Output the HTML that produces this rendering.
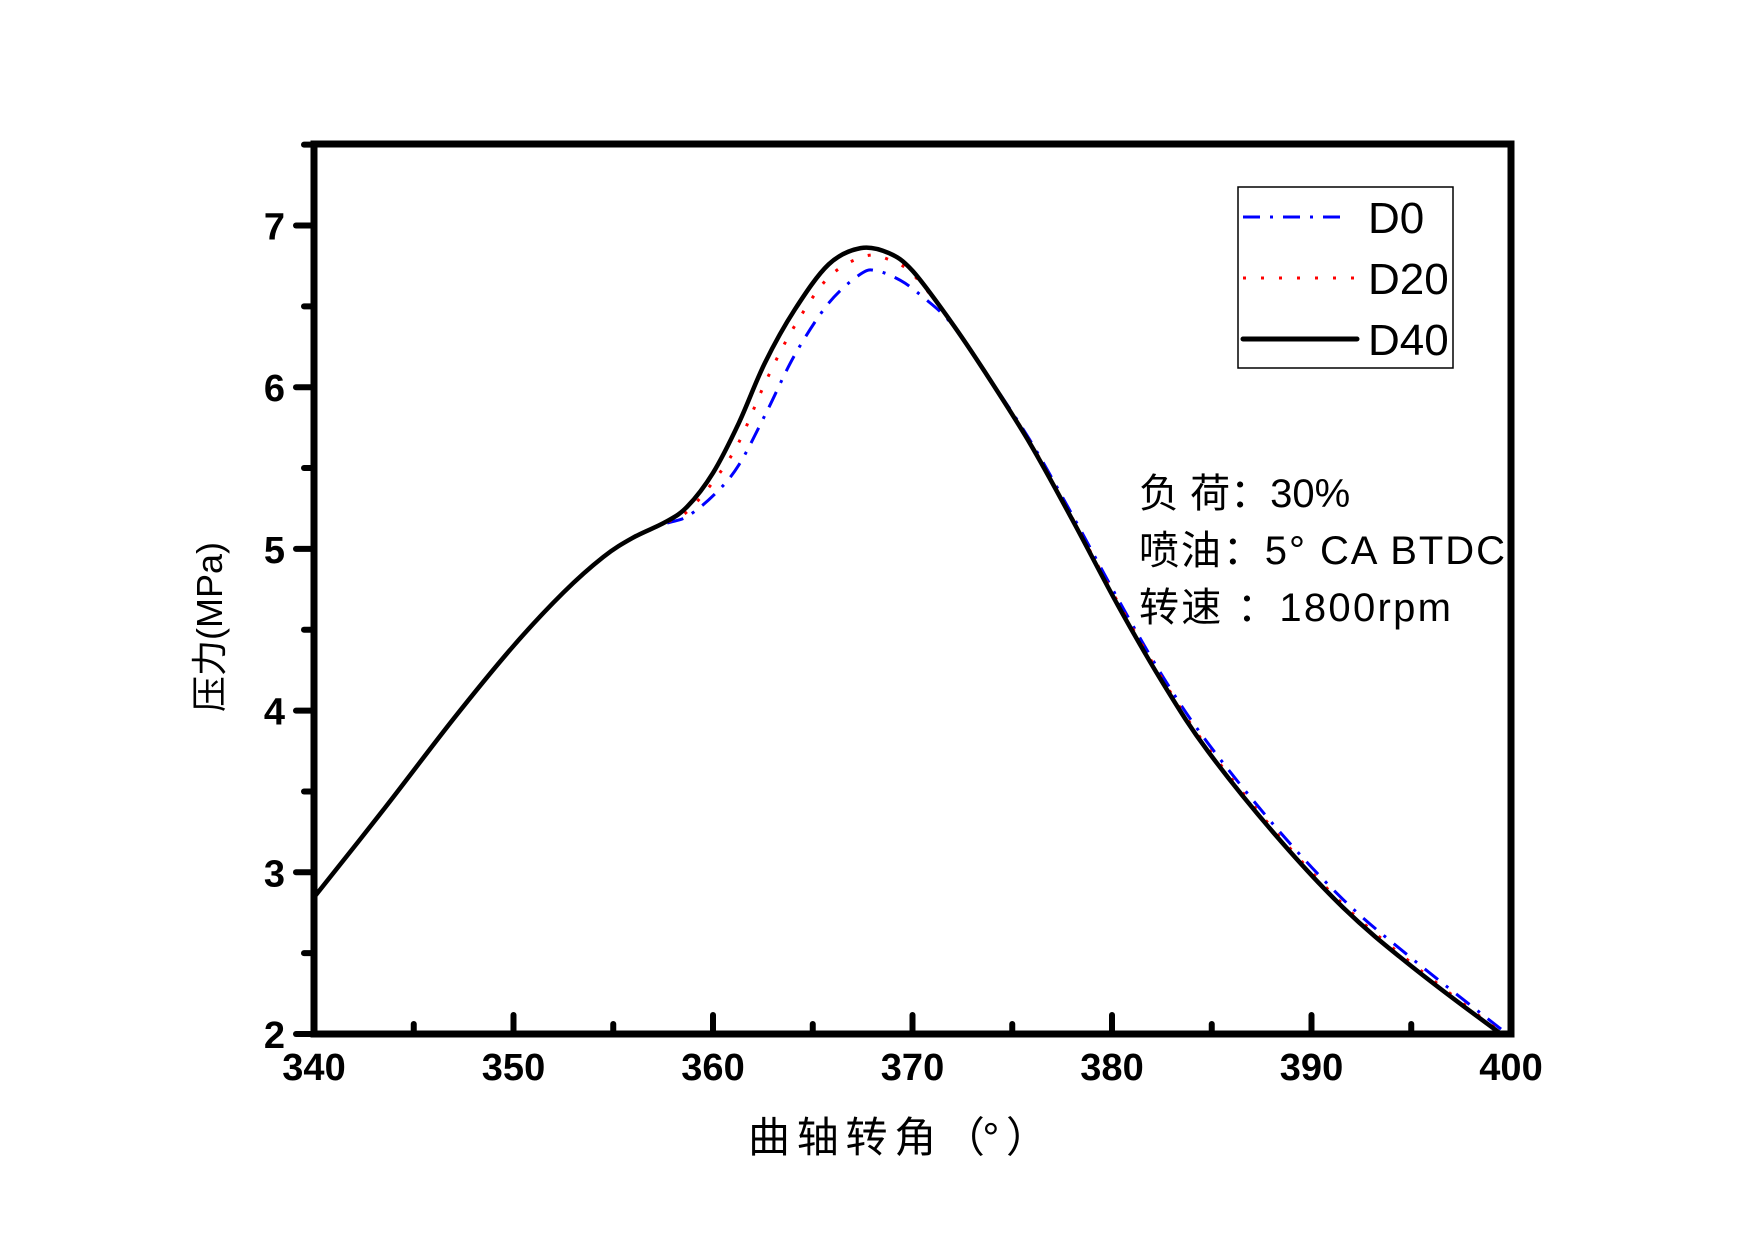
<!DOCTYPE html>
<html><head><meta charset="utf-8"><style>
html,body{margin:0;padding:0;background:#fff;}
svg{display:block;}
</style></head><body>
<svg id="s" width="1755" height="1240" xmlns="http://www.w3.org/2000/svg">
<rect width="1755" height="1240" fill="#fff"/>
<g id="curves" fill="none" clip-path="url(#c)"></g>
<clipPath id="c"><rect x="314" y="144" width="1197" height="890"/></clipPath>
<g id="ticks" stroke="#000" stroke-width="6" stroke-linecap="round"></g>
<rect x="314" y="144" width="1197" height="890" fill="none" stroke="#000" stroke-width="7"/>
<g font-family="'Liberation Sans','DejaVu Sans',sans-serif" font-weight="bold" font-size="38" fill="#000" id="labels"></g>
<text transform="translate(222,627) rotate(-90)" text-anchor="middle" font-family="'Liberation Sans','Noto Sans CJK SC',sans-serif" font-size="36">压力(MPa)</text>
<text x="898" y="1152" text-anchor="middle" font-family="'Liberation Sans','Noto Sans CJK SC',sans-serif" font-size="42" textLength="300">曲 轴 转 角 （° ）</text>
<g font-family="'Liberation Sans','Noto Sans CJK SC',sans-serif" font-size="40" fill="#000">
<text x="1139" y="507">负 荷：30%</text>
<text x="1139" y="564" textLength="366">喷油：5°  CA BTDC</text>
<text x="1139" y="621" textLength="312">转速 ：1800rpm</text>
</g>
<rect x="1238" y="187" width="215" height="181" fill="#fff" stroke="#000" stroke-width="1.5"/>
<line x1="1243" y1="217" x2="1350" y2="217" stroke="#00f" stroke-width="3" stroke-dasharray="17,10,3,10"/>
<line x1="1243" y1="278" x2="1356" y2="278" stroke="#f00" stroke-width="3" stroke-dasharray="3,15"/>
<line x1="1243" y1="339" x2="1357" y2="339" stroke="#000" stroke-width="5" stroke-linecap="round"/>
<g font-family="'Liberation Sans',sans-serif" font-size="44" fill="#000">
<text x="1368" y="233">D0</text><text x="1368" y="294">D20</text><text x="1368" y="355">D40</text>
</g>
</svg>
<script>
var X=function(d){return 314+19.95*(d-340)},Y=function(p){return 1034-161.7*(p-2)};
var head=[[340,2.845],[343.5,3.39],[347,3.95],[350,4.40],[352.5,4.73],[354.5,4.95],[356,5.07]];
var tail0=[[371.9,6.40],[373.6,6.10],[375.9,5.67],[378.1,5.19],[380.3,4.69],[382.6,4.2],[384.8,3.8],[388.2,3.28],[391.6,2.83],[394.9,2.48],[399.4,2.04],[400,1.99]];
var d40=head.concat([[357.6,5.165],[358.7,5.26],[360,5.47],[361.3,5.78],[362.6,6.15],[364.1,6.48],[365.8,6.76],[367.4,6.86],[368.8,6.83],[370,6.72],[371.9,6.41],[373.6,6.10],[375.9,5.65],[378.1,5.16],[380.3,4.65],[382.6,4.16],[384.8,3.75],[388.2,3.23],[391.6,2.78],[394.9,2.43],[399.4,2.01],[400,1.97]]);
var d0=head.concat([[357.6,5.155],[358.7,5.2],[360.1,5.34],[361.3,5.52],[362.7,5.85],[364.1,6.2],[365.8,6.52],[367.4,6.7],[368.2,6.72],[369.4,6.66],[370.5,6.56]]).concat(tail0);
var d20=head.concat([[357.6,5.16],[358.7,5.23],[360.1,5.43],[361.3,5.66],[362.7,6.05],[364.1,6.38],[365.8,6.68],[367.6,6.81],[368.8,6.79],[370,6.70],[371.9,6.41],[373.6,6.10],[375.9,5.66],[378.1,5.17],[380.3,4.67],[382.6,4.18],[384.8,3.77],[388.2,3.25],[391.6,2.8],[394.9,2.45],[399.4,2.02],[400,1.98]]);
function path(a){var p=a.map(function(q){return [X(q[0]),Y(q[1])]});var s="M"+p[0][0]+","+p[0][1];
for(var i=0;i<p.length-1;i++){var p0=p[Math.max(0,i-1)],p1=p[i],p2=p[i+1],p3=p[Math.min(p.length-1,i+2)];
s+=" C"+(p1[0]+(p2[0]-p0[0])/6)+","+(p1[1]+(p2[1]-p0[1])/6)+" "+(p2[0]-(p3[0]-p1[0])/6)+","+(p2[1]-(p3[1]-p1[1])/6)+" "+p2[0]+","+p2[1];}return s;}
var ns="http://www.w3.org/2000/svg",g=document.getElementById("curves");
function add(a,col,w,da){var e=document.createElementNS(ns,"path");e.setAttribute("d",path(a));e.setAttribute("stroke",col);e.setAttribute("stroke-width",w);if(da)e.setAttribute("stroke-dasharray",da);g.appendChild(e);}
add(d0,"#00f",3,"17,10,3,10");add(d20,"#f00",3,"3,15");add(d40,"#000",4.5);
var t=document.getElementById("ticks"),L=document.getElementById("labels");
function ln(a,b,c,d){var e=document.createElementNS(ns,"line");e.setAttribute("x1",a);e.setAttribute("y1",b);e.setAttribute("x2",c);e.setAttribute("y2",d);t.appendChild(e);}
function tx(x,y,s,an){var e=document.createElementNS(ns,"text");e.setAttribute("x",x);e.setAttribute("y",y);e.setAttribute("text-anchor",an);e.textContent=s;L.appendChild(e);}
for(var v=2;v<=7.5;v+=0.5){var y=Y(v);ln(314,y,v%1==0?296:304,y);if(v%1==0)tx(285,y+14,""+v,"end");}
for(var d=340;d<=400;d+=5){var x=X(d);ln(x,1034,x,d%10==0?1015:1024);if(d%10==0)tx(x,1080,""+d,"middle");}
</script>
</body></html>
